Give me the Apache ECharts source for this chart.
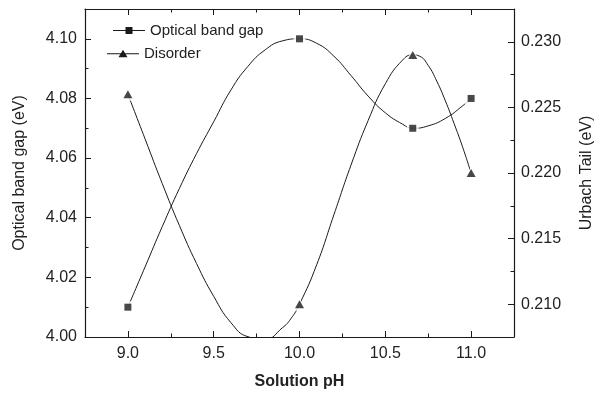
<!DOCTYPE html>
<html>
<head>
<meta charset="utf-8">
<script src="https://cdn.jsdelivr.net/npm/echarts@6/dist/echarts.min.js"></script>
<style>html,body{margin:0;padding:0;background:#fff;}#c{width:597px;height:393px;}</style>
</head>
<body>
<div id="c"></div>
<script>
// Measured points
const phValues = [9.0, 10.0, 10.66, 11.0];
const opticalGap = [4.01, 4.10, 4.07, 4.08];
const disorder = [0.226, 0.210, 0.229, 0.220];

// Spline curves
const opticalCurvePh = [9.0, 9.1, 9.2, 9.3, 9.4, 9.5, 9.6, 9.7, 9.8, 9.9, 10.0, 10.1, 10.2, 10.3, 10.4, 10.5, 10.6, 10.66, 10.75, 10.85, 10.95, 11.0];
const opticalCurveVal = [4.010, 4.0235, 4.037, 4.0498, 4.0615, 4.0722, 4.0828, 4.0908, 4.0963, 4.0993, 4.1000, 4.0985, 4.0942, 4.0877, 4.0808, 4.0752, 4.0714, 4.0700, 4.0708, 4.0733, 4.0775, 4.0800];
const disorderCurvePh = [9.0, 9.1, 9.2, 9.3, 9.4, 9.5, 9.6, 9.7, 9.8, 9.9, 9.95, 10.0, 10.1, 10.2, 10.3, 10.4, 10.5, 10.6, 10.66, 10.7, 10.75, 10.8, 10.85, 10.9, 10.95, 11.0];
const disorderCurveVal = [0.2260, 0.2226, 0.2192, 0.2160, 0.2131, 0.2106, 0.2086, 0.20752, 0.20734, 0.2082, 0.2089, 0.2100, 0.2130, 0.2168, 0.2206, 0.2240, 0.2268, 0.2286, 0.2290, 0.2289, 0.2282, 0.2270, 0.2255, 0.2238, 0.2220, 0.2200];

// Axis ticks
const xMajor = [9.0, 9.5, 10.0, 10.5, 11.0];
const xMinor = [9.25, 9.75, 10.25, 10.75];
const leftMajor = [4.00, 4.02, 4.04, 4.06, 4.08, 4.10];
const leftMinor = [4.01, 4.03, 4.05, 4.07, 4.09];
const rightMajor = [0.210, 0.215, 0.220, 0.225, 0.230];
const rightMinor = [0.2125, 0.2175, 0.2225, 0.2275];

const FONT = "'Liberation Sans', Arial, sans-serif";
const INK = '#1a1a1a';
const zip = (a, b) => a.map((v, i) => [v, b[i]]);

const X_MIN = 8.75, X_MAX = 11.25;
const L_MIN = 4.00, L_MAX = 4.11;
const R_MIN = 0.2075, R_MAX = 0.2325;

function xAx(pos, values, len, showLine, extra) {
  return Object.assign({
    type: 'value', min: X_MIN, max: X_MAX, position: pos,
    axisLine: { show: showLine, onZero: false, lineStyle: { color: INK, width: 1.2 } },
    axisTick: { show: true, inside: true, length: len, customValues: values, lineStyle: { color: INK, width: 1 } },
    axisLabel: { show: false, customValues: values },
    splitLine: { show: false }
  }, extra || {});
}
function yAx(pos, min, max, values, len, showLine, extra) {
  return Object.assign({
    type: 'value', min: min, max: max, position: pos,
    axisLine: { show: showLine, onZero: false, lineStyle: { color: INK, width: 1.2 } },
    axisTick: { show: true, inside: true, length: len, customValues: values, lineStyle: { color: INK, width: 1 } },
    axisLabel: { show: false, customValues: values },
    splitLine: { show: false }
  }, extra || {});
}

const chart = echarts.init(document.getElementById('c'), null, { renderer: 'canvas' });
chart.setOption({
  backgroundColor: '#fff',
  animation: false,
  grid: { left: 85, top: 9, width: 429, height: 328, containLabel: false, outerBoundsMode: 'none' },
  legend: [
    {
      data: [{ name: 'Optical band gap', icon: 'path://M0,3.5H32V4.5H0Z M12.5,0.5H19.5V7.5H12.5Z' }],
      left: 113, top: 23, itemWidth: 32, itemHeight: 8, padding: 0, selectedMode: false,
      itemStyle: { color: INK, borderWidth: 0 },
      textStyle: { fontFamily: FONT, fontSize: 15, color: '#222' }
    },
    {
      data: [{ name: 'Disorder', icon: 'path://M0,4H32V5H0Z M16,0.5L20.5,8H11.5Z' }],
      left: 107, top: 46, itemWidth: 32, itemHeight: 8, padding: 0, selectedMode: false,
      itemStyle: { color: INK, borderWidth: 0 },
      textStyle: { fontFamily: FONT, fontSize: 15, color: '#222' }
    }
  ],
  xAxis: [
    xAx('bottom', xMajor, 6, true, {
      axisLabel: { show: true, customValues: xMajor, margin: 9, formatter: v => v.toFixed(1), fontFamily: FONT, fontSize: 16, color: '#222' },
      name: 'Solution pH', nameLocation: 'middle', nameGap: 37,
      nameTextStyle: { fontFamily: FONT, fontSize: 16, fontWeight: 'bold', color: '#222' }
    }),
    xAx('bottom', xMinor, 3.5, false),
    xAx('top', xMajor, 6, true),
    xAx('top', xMinor, 3.5, false)
  ],
  yAxis: [
    yAx('left', L_MIN, L_MAX, leftMajor, 6, true, {
      axisLabel: { show: true, customValues: leftMajor, margin: 8, formatter: v => v.toFixed(2), fontFamily: FONT, fontSize: 16, color: '#222' },
      name: 'Optical band gap (eV)', nameLocation: 'middle', nameGap: 57, nameRotate: 90,
      nameTextStyle: { fontFamily: FONT, fontSize: 16, color: '#222' }
    }),
    yAx('right', R_MIN, R_MAX, rightMajor, 6, true, {
      axisLabel: { show: true, customValues: rightMajor, margin: 7, formatter: v => v.toFixed(3), fontFamily: FONT, fontSize: 16, color: '#222' },
      name: 'Urbach Tail (eV)', nameLocation: 'middle', nameGap: 65, nameRotate: 90,
      nameTextStyle: { fontFamily: FONT, fontSize: 16, color: '#222' }
    }),
    yAx('left', L_MIN, L_MAX, leftMinor, 3.5, false),
    yAx('right', R_MIN, R_MAX, rightMinor, 3.5, false)
  ],
  series: [
    {
      name: 'Optical band gap', type: 'line', xAxisIndex: 0, yAxisIndex: 0,
      data: zip(opticalCurvePh, opticalCurveVal), smooth: 0.5, showSymbol: false, symbol: 'none',
      clip: true, z: 2,
      itemStyle: { color: INK }, lineStyle: { color: INK, width: 1 }
    },
    {
      name: 'Disorder', type: 'line', xAxisIndex: 0, yAxisIndex: 1,
      data: zip(disorderCurvePh, disorderCurveVal), smooth: 0.5, showSymbol: false, symbol: 'none',
      clip: true, z: 2,
      itemStyle: { color: INK }, lineStyle: { color: INK, width: 1 }
    },
    {
      name: 'opt-halo', type: 'scatter', xAxisIndex: 0, yAxisIndex: 0, silent: true,
      data: zip(phValues, opticalGap), symbol: 'rect', symbolSize: 12, z: 3,
      itemStyle: { color: '#fff' }
    },
    {
      name: 'dis-halo', type: 'scatter', xAxisIndex: 0, yAxisIndex: 1, silent: true,
      data: zip(phValues, disorder), symbol: 'triangle', symbolSize: [14, 13], z: 3,
      itemStyle: { color: '#fff' }
    },
    {
      name: 'Optical band gap', type: 'scatter', xAxisIndex: 0, yAxisIndex: 0,
      data: zip(phValues, opticalGap), symbol: 'rect', symbolSize: 7, z: 4,
      itemStyle: { color: INK }
    },
    {
      name: 'Disorder', type: 'scatter', xAxisIndex: 0, yAxisIndex: 1,
      data: zip(phValues, disorder), symbol: 'triangle', symbolSize: [9, 8], z: 4,
      itemStyle: { color: INK }
    }
  ]
});
</script>
</body>
</html>
